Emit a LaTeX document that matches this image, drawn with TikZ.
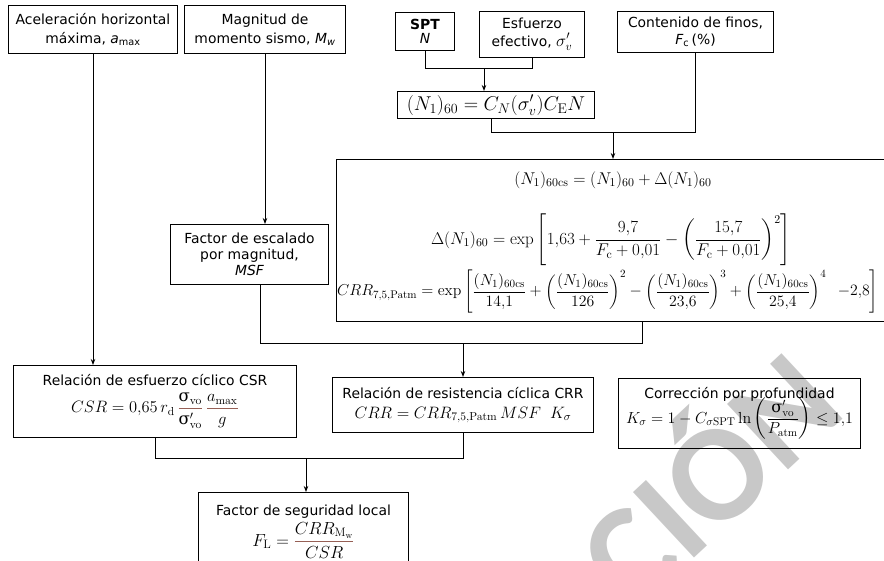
\RequirePackage{fix-cm}
\documentclass[tikz,border=0pt]{standalone}
\usepackage{amsmath}
\usepackage[no-math]{fontspec}
\setmainfont{DejaVu Sans}
\newfontfamily\grk{DejaVu Serif}
\newfontfamily\marcafont{Carlito}
\usetikzlibrary{arrows.meta}
\definecolor{fracbar}{RGB}{150,95,85}
\definecolor{marca}{RGB}{200,200,200}
% upright sigma and fractions with a tinted rule
\newcommand{\usig}{\text{\grk σ}}
\newcommand{\bfrac}[2]{{\color{fracbar}\frac{\color{black}#1}{\color{black}#2}}}
% display formula at a given size
\newcommand{\mt}[2][16.5]{{\fontsize{#1}{#1}\selectfont$\displaystyle #2$}}
\begin{document}
\begin{tikzpicture}[x=1pt,y=-1pt,
  caja/.style={draw, line width=1pt, align=center, inner sep=0pt, anchor=north west,
    font=\fontsize{13.9}{19}\selectfont},
  conector/.style={line width=1pt},
  flecha/.style={conector, -{Stealth[length=6pt,width=4.5pt]}},
  formula/.style={inner sep=0pt}]
\useasboundingbox (0,0) rectangle (884,561);
\clip (0,0) rectangle (884,561);

% watermark
\node[text=marca, rotate=43, font=\marcafont\bfseries\fontsize{138}{138}\selectfont] (marca) at (702,472) {CIÓN};

% input boxes
\node[caja, minimum width=169pt, minimum height=48pt] (acel) at (8,5)
  {Aceleración horizontal\\máxima, \textit{a}\textsubscript{max}};
\node[caja, minimum width=161pt, minimum height=48pt] (mom) at (184,5)
  {Magnitud de\\momento sismo, \textit{M}\textsubscript{\textit{w}}};
\node[caja, minimum width=59pt, minimum height=38pt, font=\fontsize{13.9}{14}\selectfont] (spt) at (395,12)
  {\textbf{SPT}\\\textit{N}};
\node[caja, minimum width=105pt, minimum height=46pt, font=\fontsize{13.9}{18}\selectfont] (esf) at (479,11)
  {Esfuerzo\\efectivo, \mt[17]{\sigma'_v}};
\node[caja, minimum width=156pt, minimum height=41pt, font=\fontsize{13.9}{17}\selectfont] (fin) at (617,11)
  {Contenido de finos,\\\textit{F}\textsubscript{c}\,(\%)};
\node[caja, minimum width=197pt, minimum height=27pt] (n1) at (397,91)
  {\mt[20]{(N_1)_{60} = C_N(\sigma'_v)C_{\mathrm{E}}N}};

% magnitude scaling factor
\node[caja, minimum width=158pt, minimum height=60pt, font=\fontsize{13.9}{16}\selectfont] (msf) at (170,224)
  {Factor de escalado\\por magnitud,\\\textit{MSF}};

% corrected blow count and CRR at 7.5 and 1 atm
\node[caja, minimum width=560pt, minimum height=162pt] (big) at (336,159) {};
\node[formula] (ncs) at (613,180)
  {\mt[17]{(N_1)_{60\mathrm{cs}} = (N_1)_{60} + \Delta(N_1)_{60}}};
\node[formula] (dn) at (611,240)
  {\mt[17]{\Delta(N_1)_{60} = \exp\left[1{,}63 + \frac{9{,}7}{F_{\mathrm c}+0{,}01} - \left(\frac{15{,}7}{F_{\mathrm c}+0{,}01}\right)^{2}\right]}};
\node[formula, anchor=west] (crr75) at (337,292)
  {\mt[15.8]{CRR_{7{,}5,\mathrm{Patm}} = \exp\left[\frac{(N_1)_{60\mathrm{cs}}}{14{,}1} + \left(\frac{(N_1)_{60\mathrm{cs}}}{126}\right)^{2} - \left(\frac{(N_1)_{60\mathrm{cs}}}{23{,}6}\right)^{3} + \left(\frac{(N_1)_{60\mathrm{cs}}}{25{,}4}\right)^{4} \;\;{-}2{,}8\right]}};

% demand, resistance and depth correction
\node[caja, minimum width=283pt, minimum height=72pt] (csr) at (13,365)
  {Relación de esfuerzo cíclico CSR\\[6pt]
   \mt{CSR = 0{,}65\,r_{\mathrm d}\,\bfrac{\usig_{\mathrm{vo}}}{\usig'_{\mathrm{vo}}}\,\bfrac{a_{\max}}{g}}};
\node[caja, minimum width=261pt, minimum height=55pt] (crr) at (332,377)
  {Relación de resistencia cíclica CRR\\[1pt]
   \mt{CRR = CRR_{7{,}5,\mathrm{Patm}}\,MSF\;\;K_\sigma}};
\node[caja, minimum width=242pt, minimum height=70pt] (kcorr) at (618,378)
  {Corrección por profundidad\\[-4pt]
   \mt[16]{K_\sigma = 1 - C_{\sigma\mathrm{SPT}}\ln\left(\frac{\usig'_{\mathrm{vo}}}{P_{\mathrm{atm}}}\right) \le 1{,}1}};

% factor of safety
\node[caja, minimum width=210pt, minimum height=78pt] (fl) at (198,492)
  {Factor de seguridad local\\[3pt]
   \mt[17.5]{F_{\mathrm L} = \bfrac{CRR_{\mathrm{M_w}}}{CSR}}};

% connectors
\coordinate (j1) at (484,69);
\draw[conector] (spt.south) -- (spt.south |- j1) -- (esf.south |- j1) -- (esf.south);
\draw[flecha] (j1) -- (j1 |- n1.north);

\coordinate (n1x) at (491,133);
\coordinate (j2) at (613,133);
\draw[conector] (n1.south -| n1x) -- (n1x) -- (fin.south |- j2) -- (fin.south);
\draw[flecha] (j2) -- (j2 |- big.north);

\draw[flecha] (acel.south) -- (acel.south |- csr.north);
\draw[flecha] (mom.south) -- (mom.south |- msf.north);

\coordinate (msfx) at (260,344);
\coordinate (j3) at (463,344);
\coordinate (bigx) at (642,344);
\draw[conector] (msf.south -| msfx) -- (msfx) -- (bigx) -- (bigx |- big.south);
\draw[flecha] (j3) -- (j3 |- crr.north);

\coordinate (crrx) at (463,458);
\coordinate (j4) at (306,458);
\draw[conector] (csr.south) -- (csr.south |- j4) -- (crrx) -- (crrx |- crr.south);
\draw[flecha] (j4) -- (j4 |- fl.north);
\end{tikzpicture}
\end{document}
